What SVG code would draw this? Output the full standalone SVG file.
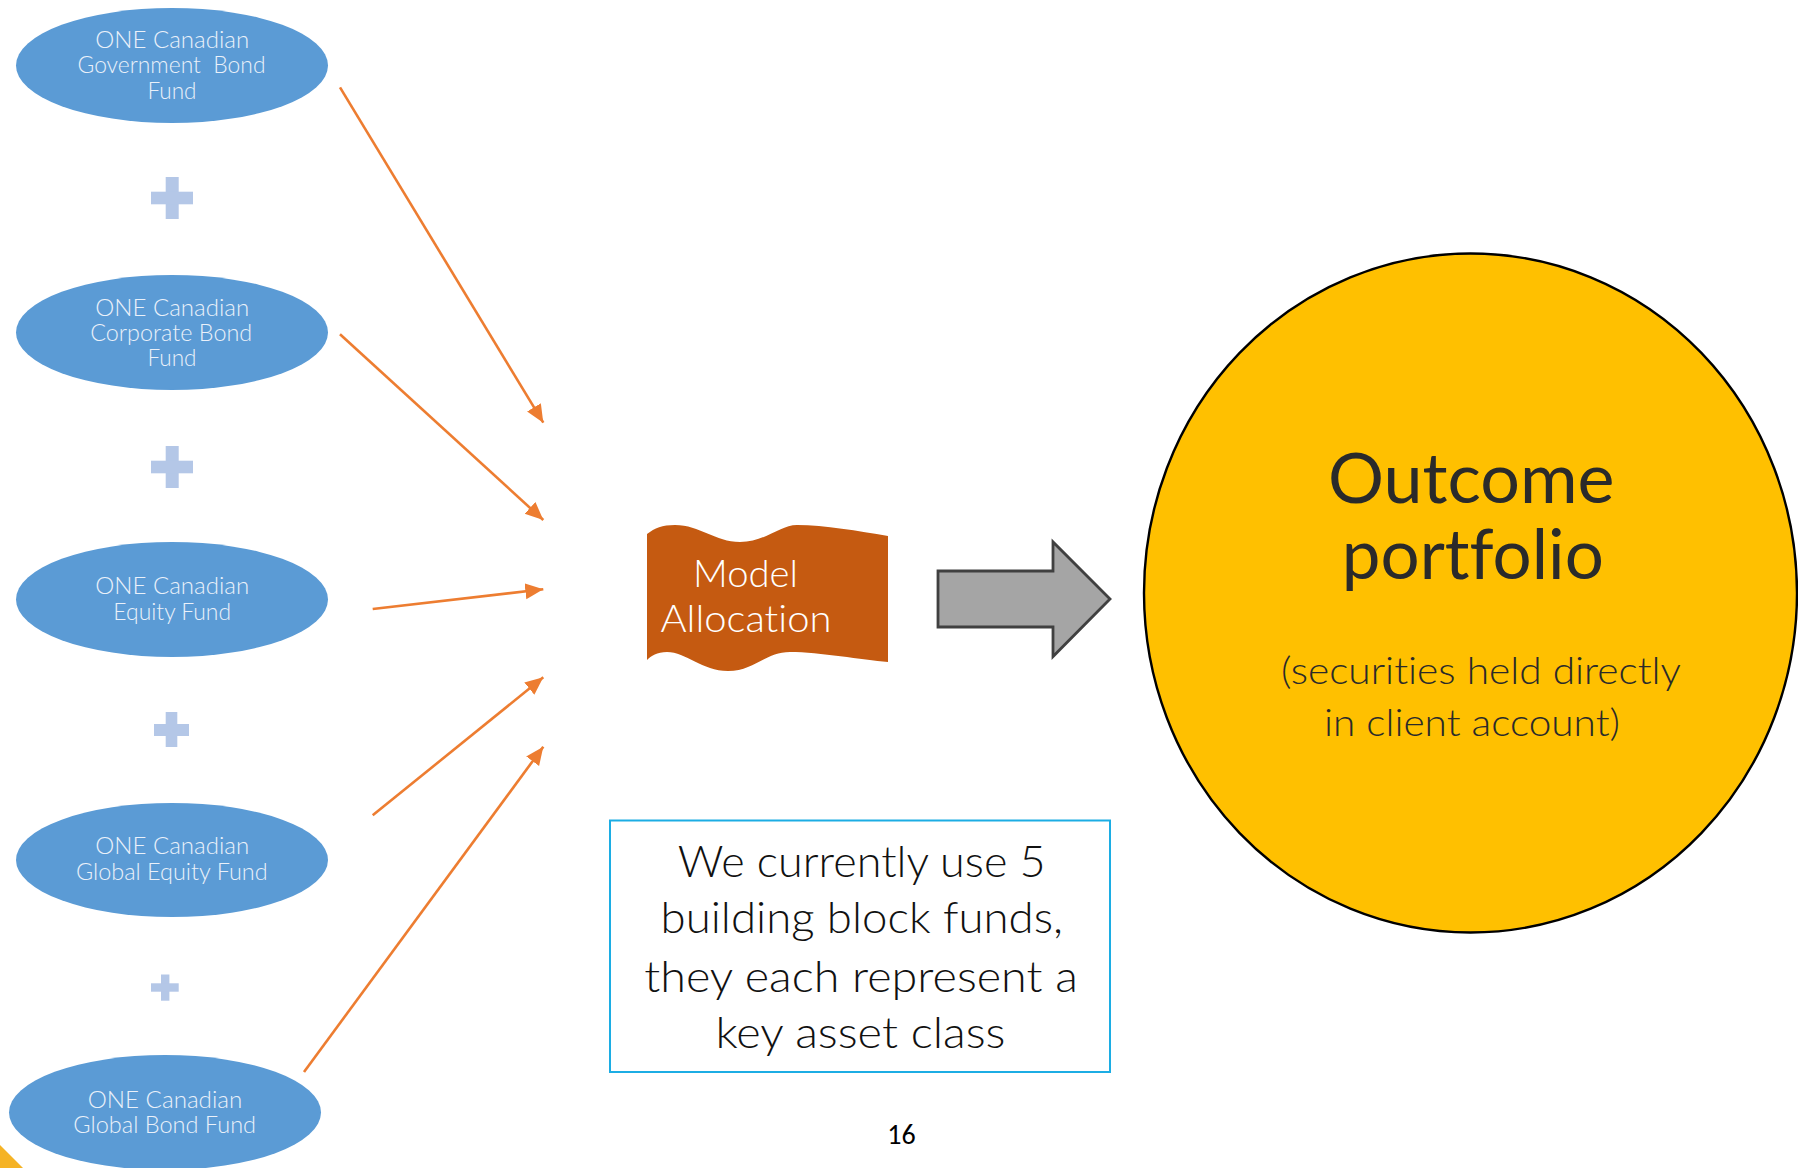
<svg xmlns="http://www.w3.org/2000/svg" width="1798" height="1168" viewBox="0 0 1798 1168">
<style>
text{font-variant-ligatures:none;font-feature-settings:"liga" 0,"clig" 0,"dlig" 0;}
.fund{fill:#5B9BD5;}
.ft{font-family:Lato,"Open Sans","Liberation Sans",sans-serif;font-weight:300;font-size:23px;fill:#EAF1FA;text-anchor:middle;}
.plus{fill:#B4C7E7;}
.conn{stroke:#ED7D31;stroke-width:2.6;fill:none;marker-end:url(#ah);}
.mt{font-family:Lato,"Open Sans","Liberation Sans",sans-serif;font-weight:300;font-size:37px;fill:#FFFFFF;text-anchor:middle;}
.bt{font-family:Lato,"Open Sans","Liberation Sans",sans-serif;font-weight:300;font-size:44px;fill:#111111;text-anchor:middle;}
.ot{font-family:Lato,"Open Sans","Liberation Sans",sans-serif;font-weight:400;font-size:70px;fill:#2A2A2A;text-anchor:middle;}
.os{font-family:Lato,"Open Sans","Liberation Sans",sans-serif;font-weight:300;font-size:38px;fill:#2A2A2A;text-anchor:middle;}
</style>
<defs>
<marker id="ah" markerUnits="userSpaceOnUse" markerWidth="20" markerHeight="18" refX="18" refY="8" orient="auto">
<path d="M0,0 L18,8 L0,16 Z" fill="#ED7D31"/>
</marker>
</defs>
<rect width="1798" height="1168" fill="#FFFFFF"/>
<polygon points="0,1145 23,1168 0,1168" fill="#F5B325"/>

<g id="fund-gov-bond">
<ellipse class="fund" cx="172" cy="65.5" rx="156" ry="57.5"/>
<text class="ft" x="172.2" y="47.7" textLength="154" lengthAdjust="spacingAndGlyphs">ONE Canadian</text>
<text class="ft" x="171.5" y="73.3" textLength="188" lengthAdjust="spacingAndGlyphs" xml:space="preserve">Government  Bond</text>
<text class="ft" x="172" y="99" textLength="49" lengthAdjust="spacingAndGlyphs">Fund</text>
</g>
<g id="plus-1"><rect class="plus" x="165.7" y="177" width="13" height="42"/><rect class="plus" x="151" y="191.7" width="42" height="12.6"/></g>
<g id="fund-corp-bond">
<ellipse class="fund" cx="172" cy="332.5" rx="156" ry="57.5"/>
<text class="ft" x="172.2" y="315.7" textLength="154" lengthAdjust="spacingAndGlyphs">ONE Canadian</text>
<text class="ft" x="171.2" y="341" textLength="162" lengthAdjust="spacingAndGlyphs">Corporate Bond</text>
<text class="ft" x="172" y="366" textLength="49" lengthAdjust="spacingAndGlyphs">Fund</text>
</g>
<g id="plus-2"><rect class="plus" x="165.7" y="446" width="13" height="42"/><rect class="plus" x="151" y="460.7" width="42" height="12.6"/></g>
<g id="fund-equity">
<ellipse class="fund" cx="172" cy="599.5" rx="156" ry="57.5"/>
<text class="ft" x="172.2" y="594" textLength="154" lengthAdjust="spacingAndGlyphs">ONE Canadian</text>
<text class="ft" x="172.2" y="620" textLength="117.7" lengthAdjust="spacingAndGlyphs">Equity Fund</text>
</g>
<g id="plus-3"><rect class="plus" x="165.7" y="712" width="11.6" height="35"/><rect class="plus" x="154" y="724" width="35" height="12"/></g>
<g id="fund-global-equity">
<ellipse class="fund" cx="172" cy="860" rx="156" ry="57"/>
<text class="ft" x="172.2" y="854.3" textLength="154" lengthAdjust="spacingAndGlyphs">ONE Canadian</text>
<text class="ft" x="171.8" y="880" textLength="191.7" lengthAdjust="spacingAndGlyphs">Global Equity Fund</text>
</g>
<g id="plus-4"><rect class="plus" x="161" y="974.5" width="8.4" height="26.2"/><rect class="plus" x="151" y="983.3" width="27.7" height="8.4"/></g>
<g id="fund-global-bond">
<ellipse class="fund" cx="165" cy="1112.5" rx="156" ry="57.5"/>
<text class="ft" x="165" y="1107.7" textLength="154.6" lengthAdjust="spacingAndGlyphs">ONE Canadian</text>
<text class="ft" x="164.7" y="1133.3" textLength="182.7" lengthAdjust="spacingAndGlyphs">Global Bond Fund</text>
</g>

<g id="connectors">
<line class="conn" x1="340" y1="87.3" x2="543.3" y2="422.7"/>
<line class="conn" x1="340" y1="334.3" x2="543.3" y2="520"/>
<line class="conn" x1="372.7" y1="609" x2="543.3" y2="589.3"/>
<line class="conn" x1="372.7" y1="815.3" x2="543.3" y2="677.3"/>
<line class="conn" x1="304" y1="1072" x2="543.3" y2="746.7"/>
</g>

<g id="model-allocation">
<path d="M647,534 C655,528 662,525 675,525 C700,525 715,542 740,542 C765,542 780,525 797,525 C825,525 858,531 888,536 L888,662 C862,660 820,652 790,652 C765,652 755,671 728,671 C702,671 686,652 667,652 C657,652 651,656 647,660 Z" fill="#C55A11"/>
<text class="mt" x="745.5" y="586.7" textLength="105" lengthAdjust="spacingAndGlyphs">Model</text>
<text class="mt" x="746" y="632" textLength="171" lengthAdjust="spacingAndGlyphs">Allocation</text>
</g>

<g id="big-arrow">
<path d="M938,571 L1053,571 L1053,542 L1110,599 L1053,656.5 L1053,627 L938,627 Z" fill="#A5A5A5" stroke="#404040" stroke-width="2.8" stroke-linejoin="miter"/>
</g>

<g id="outcome-portfolio">
<ellipse cx="1470.5" cy="593" rx="326.5" ry="339.5" fill="#FFC000" stroke="#000000" stroke-width="2.4"/>
<text class="ot" x="1471.3" y="503" textLength="286.5" lengthAdjust="spacingAndGlyphs">Outcome</text>
<text class="ot" x="1472.8" y="579" textLength="262" lengthAdjust="spacingAndGlyphs">portfolio</text>
<text class="os" x="1481" y="684.4" textLength="400" lengthAdjust="spacingAndGlyphs">(securities held directly</text>
<text class="os" x="1472" y="735.7" textLength="296" lengthAdjust="spacingAndGlyphs">in client account)</text>
</g>

<g id="note">
<rect x="610" y="820.5" width="500" height="251.5" fill="none" stroke="#1CADE4" stroke-width="2"/>
<text class="bt" x="861.7" y="877" textLength="368" lengthAdjust="spacingAndGlyphs">We currently use 5</text>
<text class="bt" x="861.8" y="933" textLength="402.5" lengthAdjust="spacingAndGlyphs">building block funds,</text>
<text class="bt" x="861" y="991.7" textLength="433.5" lengthAdjust="spacingAndGlyphs">they each represent a</text>
<text class="bt" x="860.5" y="1048" textLength="290" lengthAdjust="spacingAndGlyphs">key asset class</text>
</g>

<text x="901.5" y="1144" font-family="Carlito,'Liberation Sans',sans-serif" font-size="28" fill="#000000" text-anchor="middle">16</text>
</svg>
